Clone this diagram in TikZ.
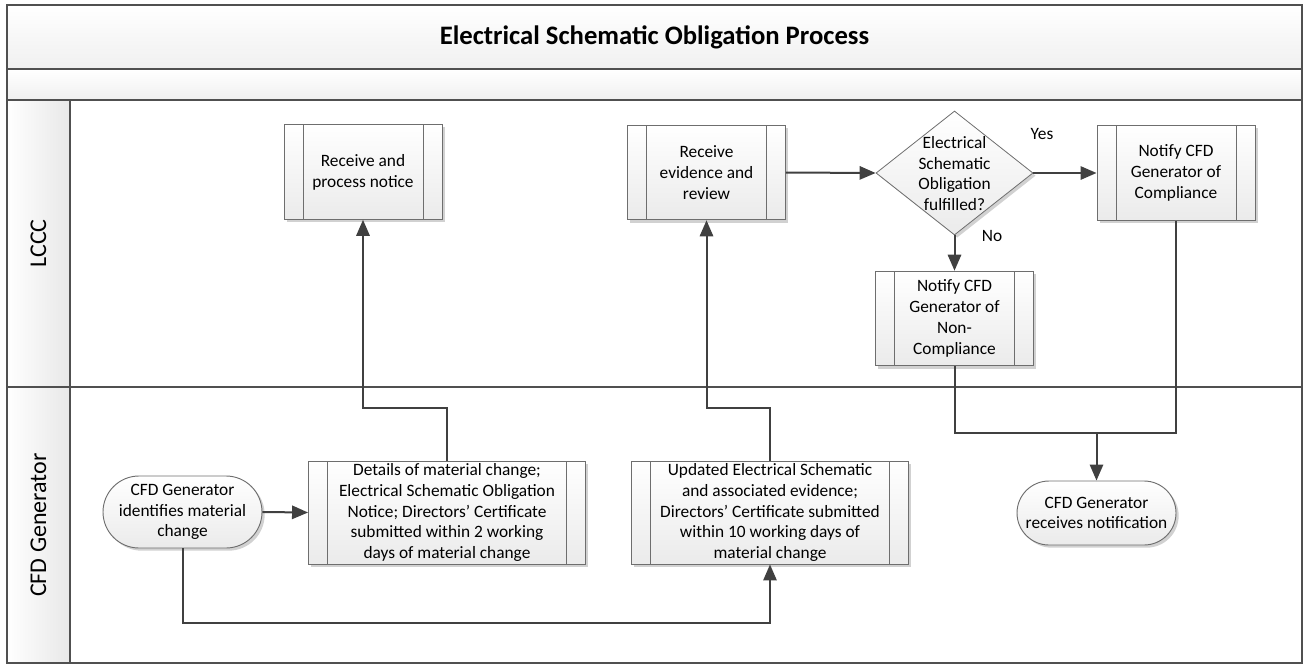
\documentclass[tikz,border=0pt]{standalone}
\usepackage{fontspec}
\setmainfont{Carlito}
\usetikzlibrary{shapes.geometric,shapes.misc,arrows.meta,shadows}
\definecolor{laneline}{HTML}{505050}
\definecolor{boxline}{HTML}{6E6E6E}
\definecolor{conn}{HTML}{404040}
\begin{document}
\begin{tikzpicture}[x=0.75pt,y=-0.75pt,
  boxfont/.style={font=\fontsize{13}{15.6}\selectfont},
  shad/.style={drop shadow={shadow xshift=2pt,shadow yshift=-2pt,fill=black!18,opacity=1}},
  proc/.style={rectangle,draw=boxline,line width=0.7pt,top color=white,bottom color=black!8,
    inner sep=0pt,align=center,boxfont,shad,
    path picture={\draw[boxline,line width=0.6pt]
      ([xshift=14.25pt]path picture bounding box.north west) -- ([xshift=14.25pt]path picture bounding box.south west)
      ([xshift=-14.25pt]path picture bounding box.north east) -- ([xshift=-14.25pt]path picture bounding box.south east);}},
  smallproc/.style={proc,minimum width=118.5pt,minimum height=71pt},
  bigproc/.style={proc,minimum width=207.75pt,minimum height=77.25pt},
  term/.style={rounded rectangle,draw=boxline,line width=0.7pt,top color=white,bottom color=black!8,
    inner sep=0pt,align=center,boxfont,shad,minimum width=119.25pt},
  decision/.style={diamond,draw=boxline,line width=0.6pt,top color=white,bottom color=black!8,
    inner sep=0pt,minimum width=117.75pt,minimum height=93pt,shad},
  lane/.style={draw=laneline,line width=1.1pt},
  conline/.style={draw=conn,line width=1.5pt},
  arr/.style={conline,-{Triangle[length=12pt,width=10pt]}},
  lbl/.style={boxfont,inner sep=0pt},
  lanelbl/.style={font=\fontsize{18}{21}\selectfont,rotate=90,inner sep=0pt}
]
\useasboundingbox (0,0) rectangle (1303,664);
% pool and lanes
\shade[top color=white,bottom color=black!6] (7,5) rectangle (1302,69);
\shade[top color=white,bottom color=black!6] (7,69) rectangle (1302,100);
\shade[left color=white,right color=black!9] (7,100) rectangle (70,663);
\draw[lane] (7,69) -- (1302,69);
\draw[lane] (7,100) -- (1302,100);
\draw[lane] (70,100) -- (70,663);
\draw[lane] (7,387) -- (1302,387);
\draw[lane,line width=1.4pt] (7,5) rectangle (1302,663);
\node[font=\fontsize{20}{24}\selectfont\bfseries] (title) at (654.5,37) {Electrical Schematic Obligation Process};
\node[lanelbl] (lccc) at (38.5,243.5) {LCCC};
\node[lanelbl] (cfdg) at (38.5,525) {CFD Generator};

% nodes
\node[smallproc] (rp) at (363,172) {Receive and\\process notice};
\node[smallproc] (re) at (706.5,172.5) {Receive\\evidence and\\review};
\node[decision] (dec) at (954.5,173) {};
\node[boxfont,align=center,inner sep=0pt] (dectext) at (954.5,173.5) {Electrical\\Schematic\\Obligation\\fulfilled?};
\node[smallproc] (comp) at (1176,173) {Notify CFD\\Generator of\\Compliance};
\node[smallproc] (nc) at (954.5,318.5) {Notify CFD\\Generator of\\Non-\\Compliance};
\node[term,minimum height=54pt] (id) at (182.5,512) {CFD Generator\\identifies material\\change};
\node[bigproc] (det) at (447,512.5) {Details of material change;\\Electrical Schematic Obligation\\Notice; Directors’ Certificate\\submitted within 2 working\\days of material change};
\node[bigproc] (upd) at (770,512.5) {Updated Electrical Schematic\\and associated evidence;\\Directors’ Certificate submitted\\within 10 working days of\\material change};
\node[term,minimum height=48pt] (recv) at (1096.5,513) {CFD Generator\\receives notification};

\node[lbl] (yes) at (1042,134) {Yes};
\node[lbl] (no) at (992,236) {No};

% connectors
\draw[arr] (id.east) -- (det.west);
\draw[arr] (det.north) -- (det.north |- 0,408) -- (rp.south |- 0,408) -- (rp.south);
\draw[arr] (id.south) -- (id.south |- 0,623) -- (upd.south |- 0,623) -- (upd.south);
\draw[arr] (upd.north) -- (upd.north |- 0,408) -- (re.south |- 0,408) -- (re.south);
\draw[arr] (re.east) -- (dec.west);
\draw[arr] (dec.east) -- (comp.west);
\draw[arr] (dec.south) -- (nc.north);
\draw[conline] (nc.south) -- (nc.south |- 0,433) -- (comp.south |- 0,433) -- (comp.south);
\coordinate (join) at (recv.north |- 0,433);
\draw[arr] (join) -- (recv.north);
\end{tikzpicture}
\end{document}
